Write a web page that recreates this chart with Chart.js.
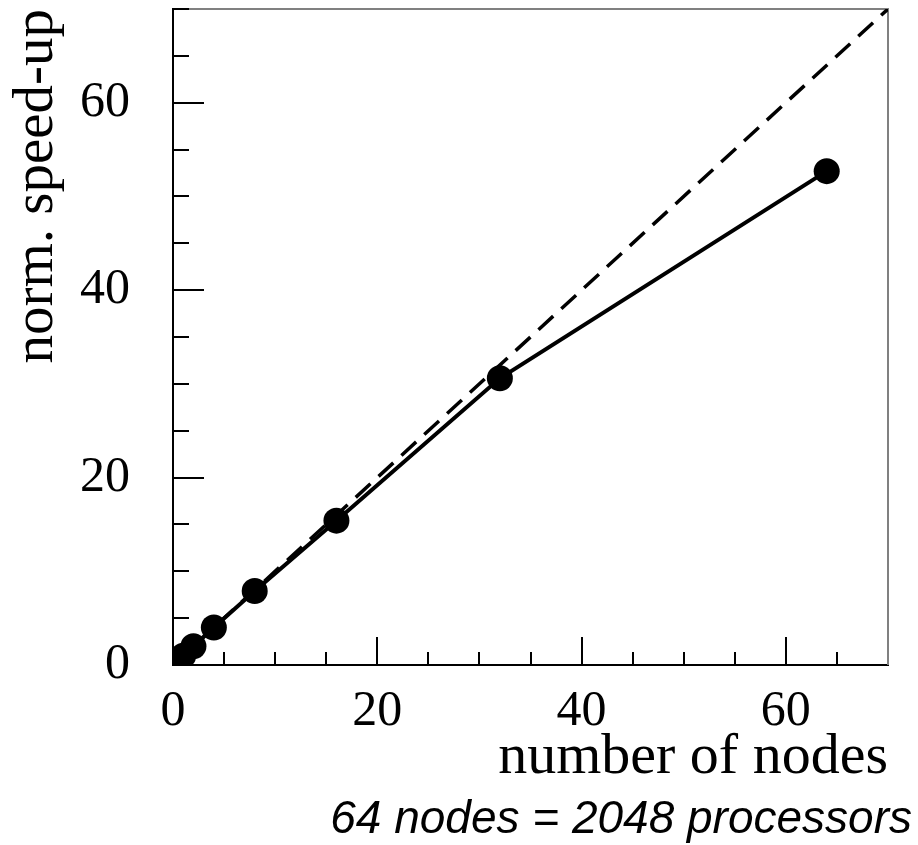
<!DOCTYPE html>
<html>
<head>
<meta charset="utf-8">
<script src="https://cdn.jsdelivr.net/npm/chart.js@4"></script>
<style>
  html, body { margin: 0; padding: 0; background: #fff; }
  #wrap { position: relative; width: 918px; height: 845px; }
  #c { position: absolute; left: 0; top: 0; }
  #note { position: absolute; right: 6px; top: 794px; font: italic 46px "Liberation Sans", Arial, sans-serif; line-height: 46px; color: #000; white-space: nowrap; }
</style>
</head>
<body>
<div id="wrap">
  <canvas id="c" width="918" height="845"></canvas>
  <div id="note">64 nodes = 2048 processors</div>
</div>
<script>
// ---- data ----
const nodes = [1, 2, 4, 8, 16, 32, 64];
const speedup = [1, 2, 4, 7.9, 15.4, 30.6, 52.7];
const idealX = [0, 70];
const idealY = [0, 70];
const xTickLabels = [0, 20, 40, 60];
const yTickLabels = [0, 20, 40, 60];
const minorStep = 5;
const axisMax = 70;
const xTitle = 'number of nodes';
const yTitle = 'norm. speed-up';

const measured = nodes.map((n, i) => ({ x: n, y: speedup[i] }));
const ideal = idealX.map((v, i) => ({ x: v, y: idealY[i] }));

const serif = '"Liberation Serif", "Times New Roman", serif';

const frameAndTicks = {
  id: 'frameAndTicks',
  beforeDatasetsDraw(chart) {
    const ctx = chart.ctx;
    const a = chart.chartArea;
    const xs = chart.scales.x, ys = chart.scales.y;
    ctx.save();
    ctx.strokeStyle = '#808080';
    ctx.lineWidth = 2;
    ctx.beginPath();
    ctx.moveTo(a.left, a.top); ctx.lineTo(a.right, a.top); ctx.lineTo(a.right, a.bottom);
    ctx.stroke();
    ctx.strokeStyle = '#000';
    ctx.lineWidth = 2;
    ctx.beginPath();
    for (let v = minorStep; v < axisMax; v += minorStep) {
      const major = xTickLabels.includes(v);
      const px = Math.round(xs.getPixelForValue(v));
      ctx.moveTo(px, a.bottom); ctx.lineTo(px, a.bottom - (major ? 28 : 13));
    }
    for (let v = minorStep; v <= axisMax; v += minorStep) {
      const major = yTickLabels.includes(v);
      const py = Math.round(ys.getPixelForValue(v));
      ctx.moveTo(a.left, py); ctx.lineTo(a.left + (major ? 31 : 16), py);
    }
    ctx.stroke();
    ctx.restore();
  }
};

new Chart(document.getElementById('c'), {
  type: 'scatter',
  data: {
    datasets: [
      {
        data: ideal,
        showLine: true,
        borderColor: '#000',
        borderWidth: 3.5,
        borderDash: [20, 11],
        pointRadius: 0,
        fill: false
      },
      {
        data: measured,
        showLine: true,
        borderColor: '#000',
        borderWidth: 4,
        pointRadius: 13,
        pointBackgroundColor: '#000',
        pointBorderColor: '#000',
        pointBorderWidth: 0,
        fill: false
      }
    ]
  },
  options: {
    responsive: false,
    animation: false,
    devicePixelRatio: 1,
    layout: { autoPadding: false, padding: { top: 9, right: 30, bottom: 48, left: 0 } },
    plugins: { legend: { display: false }, tooltip: { enabled: false } },
    scales: {
      x: {
        type: 'linear',
        min: 0, max: axisMax,
        afterFit(scale) { scale.height = 132; scale.paddingLeft = 0; scale.paddingRight = 0; },
        afterBuildTicks(scale) { scale.ticks = xTickLabels.map(v => ({ value: v })); },
        grid: { display: true, drawOnChartArea: false, drawTicks: false },
        border: { display: true, color: '#000', width: 2 },
        ticks: { color: '#000', padding: 17, maxRotation: 0, font: { family: serif, size: 50 } },
        title: {
          display: true, text: xTitle, align: 'end', color: '#000',
          font: { family: serif, size: 58, lineHeight: 1 },
          padding: { top: 0, bottom: 10 }
        }
      },
      y: {
        type: 'linear',
        min: 0, max: axisMax,
        afterFit(scale) { scale.width = 173; scale.paddingTop = 0; scale.paddingBottom = 0; },
        afterBuildTicks(scale) { scale.ticks = yTickLabels.map(v => ({ value: v })); },
        grid: { display: true, drawOnChartArea: false, drawTicks: false },
        border: { display: true, color: '#000', width: 2 },
        ticks: { color: '#000', padding: 43, font: { family: serif, size: 50 } },
        title: {
          display: true, text: yTitle, align: 'end', color: '#000',
          font: { family: serif, size: 57, lineHeight: 1 },
          padding: { top: 9, bottom: 0 }
        }
      }
    }
  },
  plugins: [frameAndTicks]
});
</script>
</body>
</html>
